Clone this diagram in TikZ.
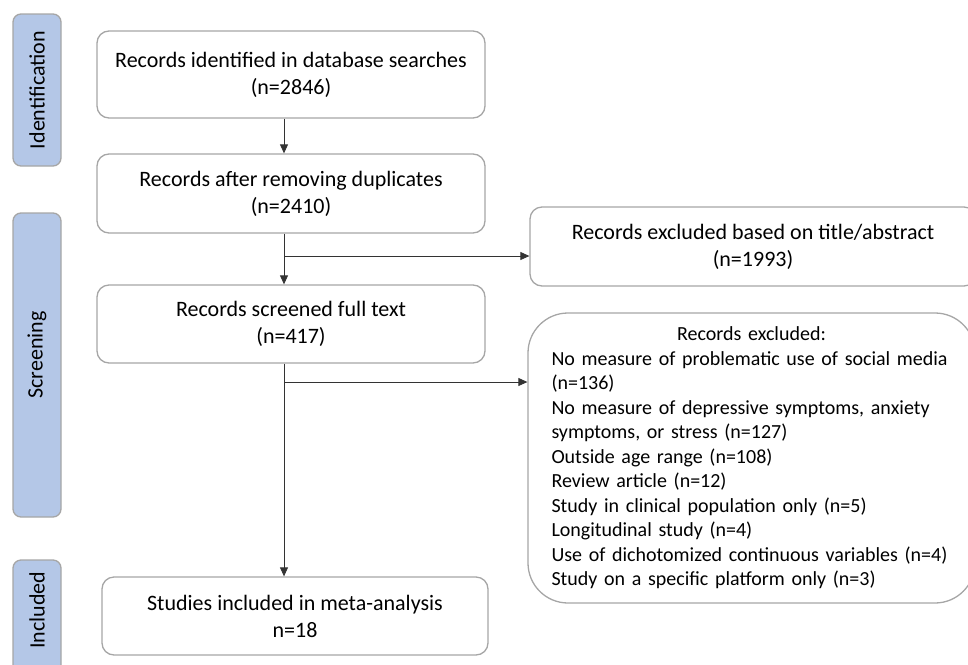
\documentclass[tikz,border=0pt]{standalone}
\usepackage{fontspec}
\setmainfont{Carlito}
\usetikzlibrary{arrows.meta}

\definecolor{stageblue}{HTML}{B4C7E7}
\definecolor{boxgray}{HTML}{A6A6A6}

\tikzset{
  txt/.style={font=\fontsize{22}{27}\selectfont},
  stage/.style={txt, draw=boxgray, line width=1.3pt, fill=stageblue, rounded corners=8pt,
    rotate=90, inner sep=0pt, minimum height=48pt},
  recbox/.style={txt, draw=boxgray, line width=1.3pt, rounded corners=12pt, align=center,
    inner sep=0pt},
  flow/.style={draw=black!80, line width=0.8pt, -{Triangle[length=9pt,width=8pt]}}
}

\begin{document}
\begin{tikzpicture}[x=1pt,y=-1pt]
  \useasboundingbox (0,0) rectangle (968,664);
  % stages
  \node[stage, minimum width=152pt] (ident) at (37,90) {Identification};
  \node[stage, minimum width=304pt] (screen) at (37,365) {\hspace*{20pt}Screening};
  \node[stage, minimum width=140pt] (incl) at (37,630) {\hspace*{40pt}Included};
  % records
  \node[recbox, minimum width=388pt, minimum height=87pt] (found) at (291,74.5)
    {Records identified in database searches\\(n=2846)};
  \node[recbox, minimum width=388pt, minimum height=79pt] (dedup) at (291,193.5)
    {Records after removing duplicates\\(n=2410)};
  \node[recbox, minimum width=446pt, minimum height=79pt] (exclA) at (753,246.5)
    {Records excluded based on title/abstract\\(n=1993)};
  \node[recbox, minimum width=388pt, minimum height=78pt] (full) at (291,324)
    {Records screened full text\\(n=417)};
  \node[recbox, rounded corners=40pt, minimum width=447pt, minimum height=290pt,
    text width=400pt, align=left, font=\fontsize{20}{24.5}\selectfont] (exclB) at (751.5,458)
    {\makebox[400pt]{Records excluded:}\\
     No measure of problematic use of social media\\
     (n=136)\\
     No measure of depressive symptoms, anxiety\\
     symptoms, or stress (n=127)\\
     Outside age range (n=108)\\
     Review article (n=12)\\
     Study in clinical population only (n=5)\\
     Longitudinal study (n=4)\\
     Use of dichotomized continuous variables (n=4)\\
     Study on a specific platform only (n=3)};
  \node[recbox, minimum width=386pt, minimum height=78pt] (meta) at (295,616)
    {Studies included in meta-analysis\\n=18};
  % connectors
  \coordinate (spine) at (284,0);
  \coordinate (fork1) at (284,256);
  \coordinate (fork2) at (284,382);
  \draw[flow] (found.south -| spine) -- (dedup.north -| spine);
  \draw[flow] (dedup.south -| spine) -- (full.north -| spine);
  \draw[flow] (fork1) -- (fork1 -| exclA.west);
  \draw[flow] (full.south -| spine) -- (meta.north -| spine);
  \draw[flow] (fork2) -- (fork2 -| exclB.west);
\end{tikzpicture}
\end{document}
